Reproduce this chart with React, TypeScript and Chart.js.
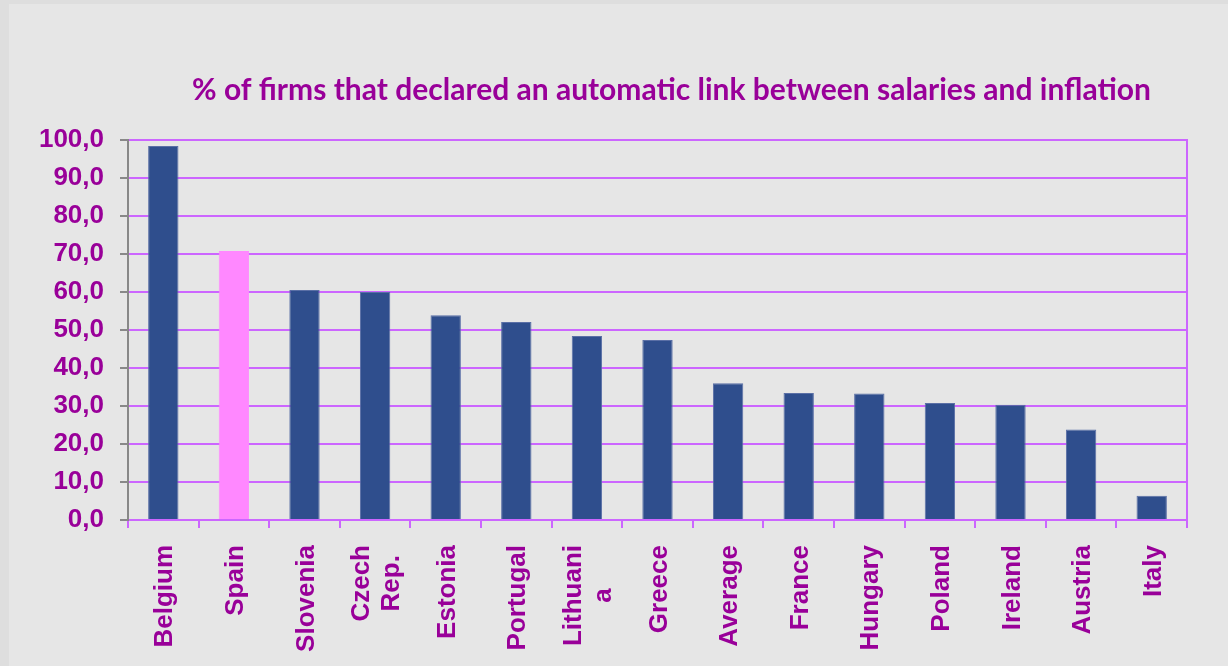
import React, { useEffect, useRef } from "react";
import { Chart, registerables } from "chart.js";

Chart.register(...registerables);

const categories: (string | string[])[] = [
  "Belgium", "Spain", "Slovenia", ["Czech", "Rep."], "Estonia", "Portugal",
  ["Lithuani", "a"], "Greece", "Average", "France", "Hungary", "Poland",
  "Ireland", "Austria", "Italy",
];
const values: number[] = [98.4, 70.8, 60.5, 60.0, 53.9, 52.1, 48.4, 47.4, 36.0, 33.4, 33.3, 30.8, 30.3, 23.8, 6.4];
const highlighted: string[] = ["Spain"];
const yTicks: number[] = [0, 10, 20, 30, 40, 50, 60, 70, 80, 90, 100];
const titleText = "% of firms that declared an automatic link between salaries and inflation";

const PURPLE = "#990099";
const GRID = "#cc66ff";
const BAR = "#2f4e8d";
const PINK = "#ff88ff";
const LABEL_FONT = "bold 26px 'Liberation Sans', Arial, sans-serif";

export default function App() {
  const ref = useRef<HTMLCanvasElement | null>(null);

  useEffect(() => {
    document.body.style.margin = "0";
    document.body.style.background = "#dedede";
    if (!ref.current) return;

    const bgPlugin = {
      id: "bg",
      beforeDraw(chart: any) {
        const ctx = chart.ctx;
        ctx.save();
        ctx.fillStyle = "#e6e6e6";
        ctx.fillRect(0, 0, chart.width, chart.height);
        ctx.restore();
      },
      afterDraw(chart: any) {
        const ctx = chart.ctx;
        const a = chart.chartArea;
        ctx.save();
        ctx.strokeStyle = GRID;
        ctx.lineWidth = 2;
        ctx.beginPath();
        ctx.moveTo(a.right, a.top - 1);
        ctx.lineTo(a.right, a.bottom + 8);
        ctx.stroke();
        // title
        ctx.fillStyle = PURPLE;
        ctx.font = "bold 30px Lato, sans-serif";
        ctx.textAlign = "center";
        ctx.textBaseline = "middle";
        ctx.fillText(titleText, (a.left + a.right) / 2 + 14, 86);

        // category labels, rotated, multi-line centred like the original
        const xs = chart.scales.x;
        ctx.font = LABEL_FONT;
        const lineH = 30;
        categories.forEach((c, i) => {
          const lines = Array.isArray(c) ? c : [c];
          const maxW = Math.max(...lines.map((l) => ctx.measureText(l).width));
          const x = xs.getPixelForTick(i) + 2;
          const top = a.bottom + 25;
          ctx.save();
          ctx.translate(x, top + maxW / 2);
          ctx.rotate(-Math.PI / 2);
          ctx.textAlign = "center";
          ctx.textBaseline = "middle";
          lines.forEach((l, j) => {
            ctx.fillText(l, 0, (j - (lines.length - 1) / 2) * lineH);
          });
          ctx.restore();
        });
        ctx.restore();
      },
    };

    const labelStr = categories.map((c) => (Array.isArray(c) ? c.join(" ") : c));

    const chart = new Chart(ref.current, {
      type: "bar",
      data: {
        labels: labelStr,
        datasets: [
          {
            data: values,
            backgroundColor: labelStr.map((l) => (highlighted.includes(l) ? PINK : BAR)),
            borderColor: labelStr.map((l) => (highlighted.includes(l) ? PINK : "#5a6fa6")),
            borderWidth: 1,
            barPercentage: 0.43,
            categoryPercentage: 1,
          },
        ],
      },
      options: {
        animation: false,
        responsive: false,
        layout: { padding: { top: 136, right: 41, left: 0, bottom: 0 } },
        plugins: {
          legend: { display: false },
          tooltip: { enabled: false },
          title: { display: false },
        },
        scales: {
          x: {
            grid: {
              drawOnChartArea: false,
              color: GRID,
              tickColor: GRID,
              tickLength: 8,
              lineWidth: 2,
              offset: true,
            },
            border: { color: GRID, width: 2 },
            ticks: { display: false, autoSkip: false },
            afterFit(scale: any) {
              scale.height = 146;
            },
          },
          y: {
            min: 0,
            max: 100,
            grid: {
              color: GRID,
              tickColor: "#888888",
              tickLength: 8,
              lineWidth: 2,
            },
            border: { color: "#888888", width: 2 },
            afterBuildTicks(scale: any) {
              scale.ticks = yTicks.map((v) => ({ value: v }));
            },
            ticks: {
              color: PURPLE,
              font: { family: "'Liberation Sans', Arial, sans-serif", size: 26, weight: "bold" },
              padding: 16,
              callback: (v: any) => Number(v).toFixed(1).replace(".", ","),
            },
            afterFit(scale: any) {
              scale.width = 119;
            },
          },
        },
      },
      plugins: [bgPlugin],
    });
    return () => chart.destroy();
  }, []);

  return (
    <div style={{ paddingLeft: 9, paddingTop: 4 }}>
      <canvas ref={ref} width={1219} height={662} style={{ display: "block" }} />
    </div>
  );
}
